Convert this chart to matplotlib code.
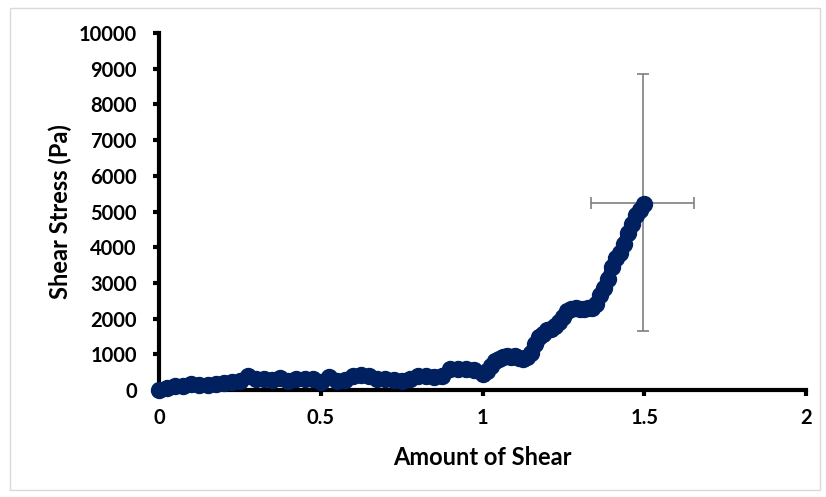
import matplotlib
matplotlib.use("Agg")
import matplotlib.pyplot as plt
from matplotlib.patches import Rectangle

# ---- data ----
shear = [0.000, 0.025, 0.050, 0.075, 0.100, 0.125, 0.150, 0.175, 0.200, 0.225,
         0.250, 0.275, 0.300, 0.325, 0.350, 0.375, 0.400, 0.425, 0.450, 0.475,
         0.500, 0.525, 0.550, 0.575, 0.600, 0.625, 0.650, 0.675, 0.700, 0.725,
         0.750, 0.775, 0.800, 0.825, 0.850, 0.875, 0.900, 0.925, 0.950, 0.975,
         1.000, 1.0125, 1.025, 1.0375, 1.050, 1.0625, 1.075, 1.0875, 1.100, 1.1125,
         1.125, 1.1375, 1.150, 1.1625, 1.175, 1.1875, 1.200, 1.2125, 1.225, 1.2375,
         1.250, 1.2625, 1.275, 1.2875, 1.300, 1.3125, 1.325, 1.3375, 1.350, 1.3625,
         1.375, 1.3875, 1.400, 1.4125, 1.425, 1.4375, 1.450, 1.4625, 1.475, 1.4875,
         1.500]
stress = [0, 60, 100, 120, 180, 150, 130, 170, 200, 220,
          260, 400, 320, 300, 280, 340, 260, 300, 320, 300,
          230, 360, 260, 280, 400, 430, 380, 320, 300, 280,
          250, 300, 380, 400, 360, 380, 580, 600, 580, 560,
          450, 520, 680, 800, 870, 920, 940, 930, 950, 900,
          880, 920, 1050, 1300, 1480, 1580, 1680, 1700, 1780, 1900,
          2050, 2200, 2280, 2300, 2280, 2270, 2300, 2300, 2400, 2650,
          2850, 3100, 3450, 3700, 3850, 4100, 4400, 4650, 4900, 5050,
          5200]
err_x = 1.495
err_y = 5250
err_dx = 0.16
err_dy = 3595
xticks = [0, 0.5, 1, 1.5, 2]
xtick_labels = ["0", "0.5", "1", "1.5", "2"]
yticks = list(range(0, 10001, 1000))

navy = "#002060"

fig = plt.figure(figsize=(8.26, 4.97), dpi=100)
fig.patches.append(Rectangle((9.5 / 826, 1 - 490 / 497), (820 - 9.5) / 826, (490 - 8) / 497,
                             transform=fig.transFigure, fill=False,
                             edgecolor="#d9d9d9", linewidth=1.0))
ax = fig.add_axes([159 / 826, 1 - 390 / 497, (806 - 159) / 826, (390 - 33) / 497])

ax.plot(shear, stress, color=navy, linewidth=9, marker="o", markersize=11.5,
        markerfacecolor=navy, markeredgecolor=navy, solid_capstyle="round",
        solid_joinstyle="round", zorder=3, clip_on=False)
ax.errorbar([err_x], [err_y], xerr=[err_dx], yerr=[err_dy], fmt="none",
            ecolor="#7f7f7f", elinewidth=1.2, capsize=4, capthick=1.2, zorder=2)

ax.set_xlim(0, 2)
ax.set_ylim(0, 10000)
ax.set_xticks(xticks)
ax.set_xticklabels(xtick_labels)
ax.set_yticks(yticks)

font = "Lato"
for lab in ax.get_xticklabels() + ax.get_yticklabels():
    lab.set_fontfamily(font)
    lab.set_fontweight("bold")
    lab.set_fontsize(14.5)

ax.spines["top"].set_visible(False)
ax.spines["right"].set_visible(False)
for s in ("left", "bottom"):
    ax.spines[s].set_linewidth(3)
    ax.spines[s].set_color("black")
ax.tick_params(axis="both", direction="out", length=4, width=3, color="black")
ax.tick_params(axis="x", pad=9)
ax.tick_params(axis="y", pad=12)

ax.set_xlabel("Amount of Shear", fontfamily=font, fontweight="bold", fontsize=17, labelpad=13)
ax.set_ylabel("Shear Stress (Pa)", fontfamily=font, fontweight="bold", fontsize=17, labelpad=5)

fig.savefig("out.png", dpi=100)
